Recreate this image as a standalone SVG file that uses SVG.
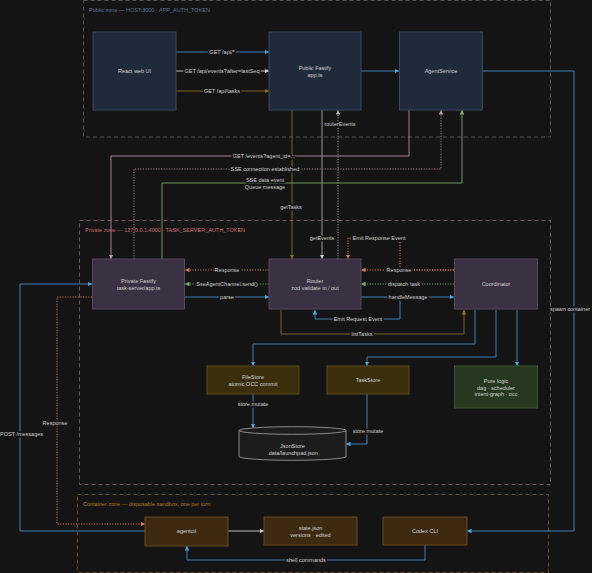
<svg xmlns="http://www.w3.org/2000/svg" width="592" height="573" viewBox="0 0 592 573">
<defs>
<style>
text{font-family:"Liberation Sans",Arial,sans-serif;font-size:5.5px;fill:#d2d2d2;text-anchor:middle;dominant-baseline:central}
.lbl{paint-order:stroke;stroke:#141414;stroke-width:3px;stroke-linejoin:round;fill:#cfcfcf}
.zone{fill:none;stroke-width:1;stroke-dasharray:4 3}
.e{fill:none;stroke-width:1}
.dot{stroke-dasharray:1.2 1.4}
.pub{fill:#1f2a3b;stroke:#3a4960;stroke-width:1}
.prv{fill:#3a3142;stroke:#56495e;stroke-width:1}
.sto{fill:#3a2e0b;stroke:#5a4818;stroke-width:1}
.pure{fill:#26381f;stroke:#3b5530;stroke-width:1}
.ctr{fill:#3d2a10;stroke:#6a4a1e;stroke-width:1}
.blue{stroke:#3f80b0}
.white{stroke:#bdbdbd}
.ylw{stroke:#7a6420}
.gray{stroke:#9a9a9a}
.pink{stroke:#a8809a}
.pinkd{stroke:#a07888}
.green{stroke:#6a9a5a}
.orng{stroke:#c0704c}
.grnd{stroke:#6a9a6a}
</style>
<marker id="mBlue" viewBox="0 0 10 10" refX="10" refY="5" markerWidth="4.5" markerHeight="4.5" orient="auto"><path d="M0,0L10,5L0,10z" fill="#4aa8e0"/></marker>
<marker id="mWhite" viewBox="0 0 10 10" refX="10" refY="5" markerWidth="4.5" markerHeight="4.5" orient="auto"><path d="M0,0L10,5L0,10z" fill="#d0d0d0"/></marker>
<marker id="mYlw" viewBox="0 0 10 10" refX="10" refY="5" markerWidth="4.5" markerHeight="4.5" orient="auto"><path d="M0,0L10,5L0,10z" fill="#8a7020"/></marker>
<marker id="mGray" viewBox="0 0 10 10" refX="10" refY="5" markerWidth="4.5" markerHeight="4.5" orient="auto"><path d="M0,0L10,5L0,10z" fill="#b0b0b0"/></marker>
<marker id="mPink" viewBox="0 0 10 10" refX="10" refY="5" markerWidth="4.5" markerHeight="4.5" orient="auto"><path d="M0,0L10,5L0,10z" fill="#c898b8"/></marker>
<marker id="mGreen" viewBox="0 0 10 10" refX="10" refY="5" markerWidth="4.5" markerHeight="4.5" orient="auto"><path d="M0,0L10,5L0,10z" fill="#7ab86a"/></marker>
<marker id="mOrng" viewBox="0 0 10 10" refX="10" refY="5" markerWidth="4.5" markerHeight="4.5" orient="auto"><path d="M0,0L10,5L0,10z" fill="#e07850"/></marker>
</defs>
<rect width="592" height="573" fill="#141414"/>

<g id="zones">
<rect class="zone" x="83.5" y="0.5" width="467" height="136.5" stroke="#555555"/>
<text x="89" y="10" style="text-anchor:start;fill:#5a7896">Public zone — HOST:3000 · APP_AUTH_TOKEN</text>
<rect class="zone" x="79.5" y="220.5" width="471" height="264" stroke="#6e5656"/>
<text x="85" y="229.5" style="text-anchor:start;fill:#c46a6a">Private zone — 127.0.0.1:4000 · TASK_SERVER_AUTH_TOKEN</text>
<rect class="zone" x="77.5" y="494.5" width="471" height="78" stroke="#6a4a1a"/>
<text x="83" y="504" style="text-anchor:start;fill:#b07a14">Container zone — disposable sandbox, one per turn</text>
</g>

<g id="connectors">
<path class="e blue" d="M176,52H269" marker-end="url(#mBlue)"/>
<path class="e white" d="M176,71H269" marker-end="url(#mWhite)"/>
<path class="e ylw" d="M176,91H269" marker-end="url(#mYlw)"/>
<path class="e blue" d="M361,71H399" marker-end="url(#mBlue)"/>
<path class="e ylw" d="M292,110V259" marker-end="url(#mYlw)"/>
<path class="e gray" d="M322,110V259" marker-end="url(#mWhite)"/>
<path class="e gray dot" d="M338,259V110" marker-end="url(#mGray)"/>
<path class="e pink" d="M409,110V156H111V259" marker-end="url(#mPink)"/>
<path class="e pinkd dot" d="M134,259V169H441V110" marker-end="url(#mPink)"/>
<path class="e green" d="M162,259V183H462V110" marker-end="url(#mGreen)"/>
<path class="e blue" d="M483,71H574V531H467" marker-end="url(#mBlue)"/>
<path class="e orng dot" d="M269,270H185" marker-end="url(#mOrng)"/>
<path class="e grnd dot" d="M269,284H185" marker-end="url(#mGreen)"/>
<path class="e blue" d="M185,297H269" marker-end="url(#mBlue)"/>
<path class="e orng dot" d="M454,270H361" marker-end="url(#mOrng)"/>
<path class="e grnd dot" d="M454,284H361" marker-end="url(#mGreen)"/>
<path class="e blue" d="M361,297H454" marker-end="url(#mBlue)"/>
<path class="e orng dot" d="M454,270H400V238H348V259" marker-end="url(#mOrng)"/>
<path class="e blue" d="M400,297V319H315V310" marker-end="url(#mBlue)"/>
<path class="e ylw" d="M281,310V334H464V310" marker-end="url(#mYlw)"/>
<path class="e blue" d="M475,310V344H253V366" marker-end="url(#mBlue)"/>
<path class="e blue" d="M496,310V357H367V366" marker-end="url(#mBlue)"/>
<path class="e blue" d="M517,310V366" marker-end="url(#mBlue)"/>
<path class="e blue" d="M253,394V428" marker-end="url(#mBlue)"/>
<path class="e blue" d="M367,394V444H346" marker-end="url(#mBlue)"/>
<path class="e blue" d="M145,531H20V284H92" marker-end="url(#mBlue)"/>
<path class="e orng dot" d="M92,297H57V524H145" marker-end="url(#mOrng)"/>
<path class="e white" d="M228,531H264" marker-end="url(#mWhite)"/>
<path class="e blue" d="M425,545V560H187V546" marker-end="url(#mBlue)"/>

<text class="lbl" x="222" y="52">GET /api/*</text>
<text class="lbl" x="222" y="71">GET /api/events?after=lastSeq</text>
<text class="lbl" x="222" y="91">GET /api/tasks</text>
<text class="lbl" x="291" y="207">getTasks</text>
<text class="lbl" x="322" y="238">getEvents</text>
<text class="lbl" x="340" y="124">routerEvents</text>
<text class="lbl" x="264" y="156">GET /events?agent_id=...</text>
<text class="lbl" x="265" y="169">SSE connection established</text>
<text class="lbl" x="265" y="180">SSE data event</text>
<text class="lbl" x="265" y="186.5">Queue message</text>
<text class="lbl" x="570" y="309">spawn container</text>
<text class="lbl" x="227" y="270">Response</text>
<text class="lbl" x="227" y="284">SseAgentChannel.send()</text>
<text class="lbl" x="227" y="297">parse</text>
<text class="lbl" x="399" y="270">Response</text>
<text class="lbl" x="404" y="284">dispatch task</text>
<text class="lbl" x="408" y="297">handleMessage</text>
<text class="lbl" x="379" y="238">Emit Response Event</text>
<text class="lbl" x="358" y="319">Emit Request Event</text>
<text class="lbl" x="362" y="334">listTasks</text>
<text class="lbl" x="253" y="404">store.mutate</text>
<text class="lbl" x="368" y="431">store.mutate</text>
<text class="lbl" x="21.5" y="434">POST /messages</text>
<text class="lbl" x="55" y="423">Response</text>
<text class="lbl" x="306" y="560">shell commands</text>
</g>

<g id="react-web-ui"><rect class="pub" x="93" y="32" width="83" height="78"/><text x="134.5" y="71">React web UI</text></g>
<g id="public-fastify"><rect class="pub" x="269" y="32" width="92" height="78"/><text x="315" y="67.5">Public Fastify</text><text x="315" y="75">app.ts</text></g>
<g id="agent-service"><rect class="pub" x="399.5" y="32" width="83" height="78"/><text x="441" y="71">AgentService</text></g>

<g id="private-fastify"><rect class="prv" x="92.5" y="259" width="92" height="50"/><text x="138.5" y="281">Private Fastify</text><text x="138.5" y="288">task-server/app.ts</text></g>
<g id="router"><rect class="prv" x="269" y="259" width="92" height="50"/><text x="315" y="281">Router</text><text x="315" y="288">zod validate in / out</text></g>
<g id="coordinator"><rect class="prv" x="454.5" y="259" width="83" height="50"/><text x="496" y="284">Coordinator</text></g>

<g id="filestore"><rect class="sto" x="207" y="366" width="92" height="28"/><text x="253" y="377">FileStore</text><text x="253" y="384">atomic OCC commit</text></g>
<g id="taskstore"><rect class="sto" x="327" y="366" width="82" height="28"/><text x="368" y="380">TaskStore</text></g>
<g id="pure-logic"><rect class="pure" x="454.5" y="366" width="83" height="42"/><text x="496" y="381">Pure logic</text><text x="496" y="387.5">dag · scheduler</text><text x="496" y="394">intent-graph · occ</text></g>

<g id="jsonstore">
<path d="M239,430.5V456.5A53.5,3.8 0 0 0 346,456.5V430.5" fill="#1c1c1c" stroke="#8a8a8a" stroke-width="1"/>
<ellipse cx="292.5" cy="430.5" rx="53.5" ry="3.8" fill="#1c1c1c" stroke="#8a8a8a" stroke-width="1"/>
<text x="292.5" y="445.5">JsonStore</text><text x="292.5" y="452.5">.data/launchpad.json</text>
</g>

<g id="agentctl"><rect class="ctr" x="145" y="517" width="83" height="29"/><text x="186.5" y="531">agentctl</text></g>
<g id="state-json"><rect class="ctr" x="264" y="517" width="93" height="28"/><text x="310.5" y="528">state.json</text><text x="310.5" y="535">versions · edited</text></g>
<g id="codex-cli"><rect class="ctr" x="383" y="517" width="84" height="28"/><text x="425" y="531">Codex CLI</text></g>
</svg>
